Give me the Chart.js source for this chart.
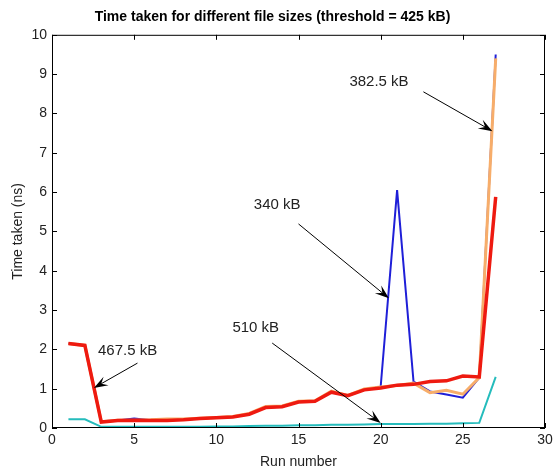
<!DOCTYPE html>
<html>
<head>
<meta charset="utf-8">
<script src="https://cdn.jsdelivr.net/npm/chart.js@4.4.0/dist/chart.umd.min.js"></script>
<style>
    html, body { margin: 0; padding: 0; background: #fff; }
</style>
</head>
<body>
<canvas id="graphe" width="559" height="472"></canvas>
<script>
// données
var runs = [1, 2, 3, 4, 5, 6, 7, 8, 9, 10, 11, 12, 13, 14, 15, 16, 17, 18, 19, 20, 21, 22, 23, 24, 25, 26, 27];
var t340  = [2.15, 2.1, 0.16, 0.19, 0.24, 0.2, 0.2, 0.21, 0.24, 0.26, 0.28, 0.35, 0.52, 0.54, 0.66, 0.68, 0.91, 0.82, 0.97, 1.05, 6.05, 1.18, 0.93, 0.85, 0.77, 1.28, 9.5];
var t3825 = [2.15, 2.1, 0.16, 0.2, 0.2, 0.21, 0.23, 0.23, 0.25, 0.27, 0.29, 0.37, 0.55, 0.56, 0.68, 0.69, 0.94, 0.83, 0.99, 1.04, 1.08, 1.14, 0.9, 0.96, 0.86, 1.28, 9.4];
var t4675 = [2.15, 2.1, 0.15, 0.19, 0.2, 0.19, 0.19, 0.21, 0.24, 0.26, 0.28, 0.35, 0.52, 0.54, 0.66, 0.68, 0.91, 0.82, 0.97, 1.02, 1.09, 1.11, 1.18, 1.2, 1.32, 1.3, 5.88];
var t510  = [0.22, 0.22, 0.03, 0.03, 0.03, 0.03, 0.03, 0.03, 0.03, 0.04, 0.04, 0.05, 0.06, 0.06, 0.07, 0.07, 0.08, 0.08, 0.09, 0.1, 0.1, 0.1, 0.11, 0.11, 0.12, 0.13, 1.3];
var xTicks = [0, 5, 10, 15, 20, 25, 30];
var yTicks = [0, 1, 2, 3, 4, 5, 6, 7, 8, 9, 10];
var sizes = ['340 kB', '382.5 kB', '467.5 kB', '510 kB'];

// étiquettes avec flèches (unités des axes : texte, départ, pointe)
var notes = [
    { text: sizes[1], tx: 19.9, ty: 8.8, x0: 22.6, y0: 8.55, x1: 26.8, y1: 7.55 },
    { text: sizes[0], tx: 13.7, ty: 5.67, x0: 15.0, y0: 5.19, x1: 20.5, y1: 3.3 },
    { text: sizes[2], tx: 4.6, ty: 1.96, x0: 5.2, y0: 1.65, x1: 2.55, y1: 1.02 },
    { text: sizes[3], tx: 12.4, ty: 2.54, x0: 13.4, y0: 2.16, x1: 20.0, y1: 0.13 }
];

var police = 'Arial, "Liberation Sans", sans-serif';

function points(vals) {
    return runs.map(function (r, i) { return { x: r, y: vals[i] }; });
}

// cadre, graduations internes et annotations
var cadre = {
    id: 'cadre',
    afterDraw: function (chart) {
        var c = chart.ctx, a = chart.chartArea;
        var sx = chart.scales.x, sy = chart.scales.y;
        c.save();
        c.strokeStyle = '#000';
        c.lineWidth = 1;
        c.strokeRect(a.left + 0.5, a.top + 0.5, a.right - a.left - 1, a.bottom - a.top - 1);
        c.beginPath();
        xTicks.forEach(function (v) {
            var px = Math.round(sx.getPixelForValue(v)) + 0.5;
            c.moveTo(px, a.bottom); c.lineTo(px, a.bottom - 5);
            c.moveTo(px, a.top); c.lineTo(px, a.top + 5);
        });
        yTicks.forEach(function (v) {
            var py = Math.round(sy.getPixelForValue(v)) + 0.5;
            c.moveTo(a.left, py); c.lineTo(a.left + 5, py);
            c.moveTo(a.right, py); c.lineTo(a.right - 5, py);
        });
        c.stroke();

        c.font = '15px ' + police;
        c.textAlign = 'center';
        c.textBaseline = 'middle';
        notes.forEach(function (n) {
            c.fillStyle = '#222';
            c.fillText(n.text, sx.getPixelForValue(n.tx), sy.getPixelForValue(n.ty));
            var x0 = sx.getPixelForValue(n.x0), y0 = sy.getPixelForValue(n.y0);
            var x1 = sx.getPixelForValue(n.x1), y1 = sy.getPixelForValue(n.y1);
            var ang = Math.atan2(y1 - y0, x1 - x0);
            var len = 14, w = 5;
            var bx = x1 - len * Math.cos(ang), by = y1 - len * Math.sin(ang);
            var nx = x1 - len * 0.6 * Math.cos(ang), ny = y1 - len * 0.6 * Math.sin(ang);
            c.fillStyle = '#000';
            c.beginPath();
            c.moveTo(x0, y0); c.lineTo(nx, ny);
            c.stroke();
            c.beginPath();
            c.moveTo(x1, y1);
            c.lineTo(bx - w * Math.sin(ang), by + w * Math.cos(ang));
            c.lineTo(nx, ny);
            c.lineTo(bx + w * Math.sin(ang), by - w * Math.cos(ang));
            c.closePath();
            c.fill();
        });
        c.restore();
    }
};

var ctx = document.getElementById('graphe');

var myChart = new Chart(ctx, {
    type: 'line',
    data: {
        datasets: [{
            label: sizes[0],
            data: points(t340),
            borderColor: '#1f1fd8',
            borderWidth: 2,
            order: 4
        }, {
            label: sizes[1],
            data: points(t3825),
            borderColor: '#f7ad6a',
            borderWidth: 3,
            order: 3
        }, {
            label: sizes[2],
            data: points(t4675),
            borderColor: '#ee1a10',
            borderWidth: 3.5,
            order: 2
        }, {
            label: sizes[3],
            data: points(t510),
            borderColor: '#25bcbc',
            borderWidth: 2,
            order: 1
        }]
    },
    options: {
        responsive: false,
        maintainAspectRatio: false,
        animation: false,
        elements: {
            point: { radius: 0 },
            line: { tension: 0 }
        },
        layout: { padding: { left: 0, right: 14, top: 0, bottom: 0 } },
        plugins: {
            legend: { display: false },
            tooltip: { enabled: false },
            title: {
                display: true,
                text: 'Time taken for different file sizes (threshold = 425 kB)',
                color: '#000',
                font: { family: police, size: 14, weight: 'bold' },
                padding: { top: 9, bottom: 9 }
            }
        },
        scales: {
            x: {
                type: 'linear',
                min: 0,
                max: 30,
                afterFit: function (s) { s.height = 44; },
                afterBuildTicks: function (s) { s.ticks = xTicks.map(function (v) { return { value: v }; }); },
                grid: { display: false, drawTicks: false, tickLength: 0 },
                border: { display: false },
                ticks: { color: '#222', font: { family: police, size: 14 }, padding: 4, maxRotation: 0 },
                title: {
                    display: true,
                    text: 'Run number',
                    color: '#222',
                    font: { family: police, size: 14 },
                    padding: { top: 0, bottom: 1 }
                }
            },
            y: {
                type: 'linear',
                min: 0,
                max: 10,
                afterFit: function (s) { s.width = 52; },
                afterBuildTicks: function (s) { s.ticks = yTicks.map(function (v) { return { value: v }; }); },
                grid: { display: false, drawTicks: false, tickLength: 0 },
                border: { display: false },
                ticks: { color: '#222', font: { family: police, size: 14 }, padding: 5 },
                title: {
                    display: true,
                    text: 'Time taken (ns)',
                    color: '#222',
                    font: { family: police, size: 14 },
                    padding: { top: 10, bottom: 0 }
                }
            }
        }
    },
    plugins: [cadre]
});
</script>
</body>
</html>
